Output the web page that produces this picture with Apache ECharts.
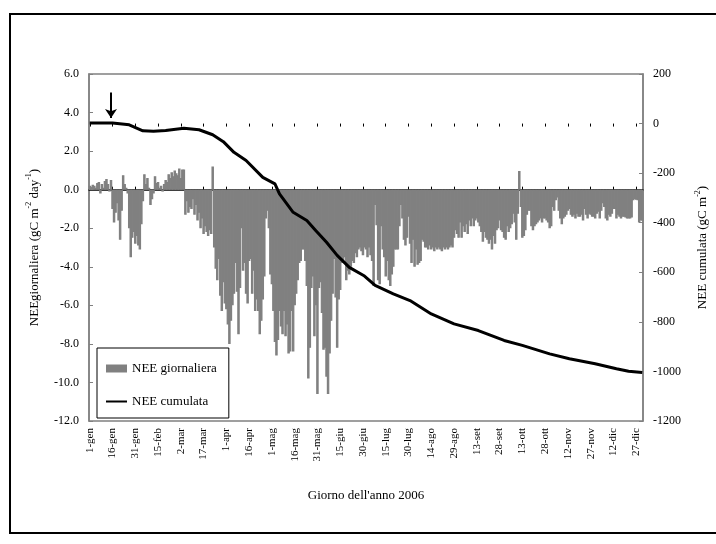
<!DOCTYPE html>
<html>
<head>
<meta charset="utf-8">
<script src="https://cdn.jsdelivr.net/npm/echarts@6/dist/echarts.min.js"></script>
<style>
html,body{margin:0;padding:0;background:#fff;}
#chart{width:716px;height:544px;}
</style>
</head>
<body>
<div id="chart"></div>
<script>
// ---- data ----
const monthNames = ['gen','feb','mar','apr','mag','giu','lug','ago','set','ott','nov','dic'];
const monthDays = [31,28,31,30,31,30,31,31,30,31,30,31];

// daily NEE (gC m-2 day-1), day 0 = 1-gen-2006
const neeDays000_091 = [
  0.2, 0.15, 0.25, 0.2, 0.1, 0.35, 0.4, -0.2, 0.3, 0.1, 0.45, 0.55, 0.3, -0.1, 0.5,
  -1.0, -1.7, -1.2, -0.7, -1.6, -2.6, -1.1,
  0.75, 0.3, 0.1, -0.2,
  -2.0, -3.5, -2.5, -2.2, -2.8, -2.4, -2.9, -3.1, -1.8, -0.6,
  0.8, 0.3, 0.6, 0.1,
  -0.8, -0.5, -0.2,
  0.7, 0.35, 0.4, 0.1,
  0.2, -0.1, 0.3,
  0.5, 0.4, 0.8, 0.6, 0.9, 0.7, 1.0, 0.85, 0.75, 1.1, 0.6, 1.05, 1.05,
  -1.3, -0.6,
  -1.2, -0.9, -1.0, -0.5, -1.3, -0.8, -1.6, -1.2, -2.0, -1.5, -2.3, -1.9, -2.2, -2.4, -2.1, -2.3,
  1.2,
  -3.0, -4.1, -4.7, -3.6, -5.5, -6.3, -4.8, -5.9, -6.2, -7.0
];
const neeDays092_181 = [
  -8.0, -6.8, -6.0, -5.4, -3.8, -5.3, -7.5, -5.1, -2.0, -4.2,
  -3.8, -5.4, -5.9, -3.7, -3.6, -5.4, -4.2, -6.3, -5.7, -6.3,
  -7.5, -6.8, -5.7, -4.5, -1.5, -1.1, -2.0, -4.4, -4.9, -6.3,
  -7.9, -8.6, -7.8, -6.3, -7.1, -7.5, -6.3, -7.6, -7.0, -8.5,
  -8.4, -6.3, -8.4, -6.0, -5.4, -4.7, -3.8, -3.7, -3.1, -3.1,
  -3.7, -5.0, -9.8, -8.2, -5.1, -4.5, -7.6, -6.0, -10.6, -5.1,
  -4.8, -6.4, -8.3, -8.2, -9.7, -10.6, -8.5, -6.8, -5.4, -3.6,
  -5.6, -8.2, -5.7, -5.2, -3.8, -3.7, -3.5, -4.7, -4.2, -4.4,
  -4.0, -3.7, -3.8, -3.3, -3.5, -3.1, -3.0, -3.2, -3.4, -3.0
];
const neeDays182_272 = [
  -3.1, -3.5, -3.0, -3.4, -3.7, -5.0, -0.8, -1.85, -4.7, -4.9,
  -1.9, -3.1, -3.5, -4.5, -3.7, -4.7, -5.0, -4.4, -4.0, -3.1,
  -3.1, -3.1, -1.9, -0.8, -1.5, -2.6, -2.9, -2.5, -1.4, -2.8,
  -3.8, -2.6, -4.0, -3.1, -3.9, -3.8, -3.7, -2.6, -2.7, -3.0,
  -3.0, -3.1, -2.9, -3.1, -3.0, -3.2, -3.0, -3.1, -3.0, -3.1,
  -3.2, -3.0, -3.1, -3.0, -3.1, -3.0, -2.9, -3.0, -2.5, -2.1,
  -2.3, -2.5, -1.7, -2.5, -1.9, -2.2, -1.8, -2.3, -1.6, -1.9,
  -1.5, -1.9, -1.6, -1.5, -1.7, -1.9, -2.2, -2.7, -2.2, -2.5,
  -2.6, -2.8, -2.6, -3.1, -2.4, -2.8, -2.1, -2.0, -1.6, -2.1,
  -2.2
];
const neeDays273_364 = [
  -2.5, -2.6, -1.9, -2.2, -2.0, -1.8, -1.25, -1.7, -2.6, -1.25,
  0.97, -0.9, -2.5, -2.4, -2.1, -1.3, -1.1, -1.1, -1.9, -2.1,
  -1.9, -1.8, -1.7, -1.6, -1.5, -1.7, -1.5, -1.5, -1.6, -1.7,
  -2.0, -1.9, -0.9, -1.1, -0.55, -0.4, -1.1, -1.5, -1.8, -1.5,
  -1.4, -1.3, -1.1, -1.0, -1.3, -1.4, -1.3, -1.5, -1.25, -1.4,
  -1.4, -1.3, -1.6, -1.0, -1.3, -1.5, -1.25, -1.3, -1.4, -1.4,
  -1.5, -1.25, -1.15, -1.5, -1.1, -0.7, -0.9, -1.5, -1.6, -1.3,
  -1.4, -1.25, -1.0, -1.0, -1.5, -1.3, -1.4, -1.5, -1.4, -1.4,
  -1.45, -1.5, -1.5, -1.5, -1.45, -0.55, -0.5, -0.52, -0.55, -1.7,
  -1.6, -1.6
];

// cumulative NEE (gC m-2), read at [day index, value]
const cumDays = [0, 15, 26, 35, 42, 50, 62, 72, 81, 88, 95, 103, 114, 122, 125, 134, 143, 149, 156, 163, 171, 181, 188, 200, 211, 225, 240, 256, 273, 285, 303, 316, 333, 347, 355, 364];
const cumValues = [2, 2, -5, -29, -31, -28, -19, -25, -45, -73, -116, -149, -217, -243, -284, -358, -391, -432, -479, -532, -580, -615, -653, -687, -714, -768, -808, -835, -875, -895, -929, -949, -969, -989, -999, -1004];

// arrow (start of measurements)
const arrowDay = 14;
const arrowFrom = 125;
const arrowTo = 22;

const leftTicks = {min: -12, max: 6, step: 2};
const rightTicks = {min: -1200, max: 200, step: 200};

// ---- build ----
const categories = [];
monthDays.forEach((n, m) => { for (let d = 1; d <= n; d++) categories.push(d + '-' + monthNames[m]); });
const neeDaily = [].concat(neeDays000_091, neeDays092_181, neeDays182_272, neeDays273_364);
const cumData = cumDays.map((d, i) => [d, cumValues[i]]);

const serif = "'Liberation Serif','Times New Roman',serif";
const chart = echarts.init(document.getElementById('chart'), null, {renderer: 'canvas'});
const catAxisBase = {type: 'category', data: categories, boundaryGap: true};

chart.setOption({
  animation: false,
  backgroundColor: '#fff',
  grid: {left: 89, right: 73, top: 74, bottom: 123, show: true, borderColor: '#808080', borderWidth: 1.5,
    backgroundColor: 'transparent', containLabel: false, outerBoundsMode: 'none'},
  graphic: [{type: 'rect', shape: {x: 10, y: 14, width: 720, height: 519}, style: {fill: 'none', stroke: '#000', lineWidth: 2}, silent: true}],
  legend: {
    left: 97, top: 348, orient: 'vertical', itemGap: 20,
    padding: [14, 12, 10, 8],
    backgroundColor: '#fff', borderColor: '#000', borderWidth: 1,
    itemWidth: 21, itemHeight: 8,
    textStyle: {fontFamily: serif, fontSize: 13, color: '#000'},
    data: [{name: 'NEE giornaliera', icon: 'rect', itemStyle: {borderWidth: 0}}, {name: 'NEE cumulata', itemStyle: {opacity: 0}}]
  },
  xAxis: [
    Object.assign({}, catAxisBase, {
      position: 'bottom',
      axisLine: {show: false, onZero: false},
      axisTick: {show: false},
      axisLabel: {interval: 14, rotate: 90, margin: 7, fontFamily: serif, fontSize: 11, color: '#000'},
      name: "Giorno dell'anno 2006", nameLocation: 'middle', nameGap: 68,
      nameTextStyle: {fontFamily: serif, fontSize: 13, color: '#000'}
    }),
    Object.assign({}, catAxisBase, {
      position: 'bottom',
      axisLine: {show: true, onZero: true, lineStyle: {color: '#000', width: 1.5}},
      axisTick: {show: true, interval: 14, alignWithLabel: true, inside: true, length: 3, lineStyle: {color: '#000', width: 1}},
      axisLabel: {show: false}
    }),
    Object.assign({}, catAxisBase, {
      position: 'bottom',
      axisLine: {show: false, onZero: true},
      axisTick: {show: true, interval: 14, alignWithLabel: true, inside: false, length: 3, lineStyle: {color: '#000', width: 1}},
      axisLabel: {show: false}
    })
  ],
  yAxis: [
    {
      type: 'value', position: 'left', min: leftTicks.min, max: leftTicks.max, interval: leftTicks.step,
      splitLine: {show: false},
      axisLine: {show: true, lineStyle: {color: '#808080', width: 1.5}},
      axisTick: {show: true, inside: true, length: 4, lineStyle: {color: '#808080'}},
      axisLabel: {formatter: v => v.toFixed(1), fontFamily: serif, fontSize: 12, color: '#000', margin: 10},
      name: 'NEEgiornaliera (gC m{sup|-2} day{sup|-1})', nameLocation: 'middle', nameRotate: 90, nameGap: 41,
      nameTextStyle: {fontFamily: serif, fontSize: 13, color: '#000', lineHeight: 18,
        rich: {sup: {fontFamily: serif, fontSize: 8, color: '#000', verticalAlign: 'top', lineHeight: 9}}}
    },
    {
      type: 'value', position: 'right', min: rightTicks.min, max: rightTicks.max, interval: rightTicks.step,
      splitLine: {show: false},
      axisLine: {show: true, lineStyle: {color: '#808080', width: 1.5}},
      axisTick: {show: true, inside: true, length: 4, lineStyle: {color: '#808080'}},
      axisLabel: {formatter: v => String(v), fontFamily: serif, fontSize: 12, color: '#000', margin: 10},
      name: 'NEE cumulata (gC m{sup|-2})', nameLocation: 'middle', nameRotate: 90, nameGap: 51,
      nameTextStyle: {fontFamily: serif, fontSize: 13, color: '#000', lineHeight: 18,
        rich: {sup: {fontFamily: serif, fontSize: 8, color: '#000', verticalAlign: 'top', lineHeight: 9}}}
    }
  ],
  series: [
    {
      name: 'NEE giornaliera', type: 'bar', xAxisIndex: 0, yAxisIndex: 0,
      data: neeDaily, barMinWidth: 2.5, barCategoryGap: '0%',
      itemStyle: {color: '#808080', borderColor: '#808080', borderWidth: 1.2}, z: 2, emphasis: {disabled: true}
    },
    {
      name: 'NEE cumulata', type: 'line', xAxisIndex: 0, yAxisIndex: 1,
      data: cumData, symbol: 'none', smooth: false,
      lineStyle: {color: '#000', width: 3}, itemStyle: {color: '#000'}, z: 4,
      emphasis: {disabled: true},
      markLine: {
        silent: true, symbol: ['none', 'arrow'], symbolSize: 9,
        label: {show: false},
        lineStyle: {color: '#000', width: 2, type: 'solid'},
        data: [[{coord: [arrowDay, arrowFrom]}, {coord: [arrowDay, arrowTo]}]]
      }
    }
  ]
});
</script>
</body>
</html>
